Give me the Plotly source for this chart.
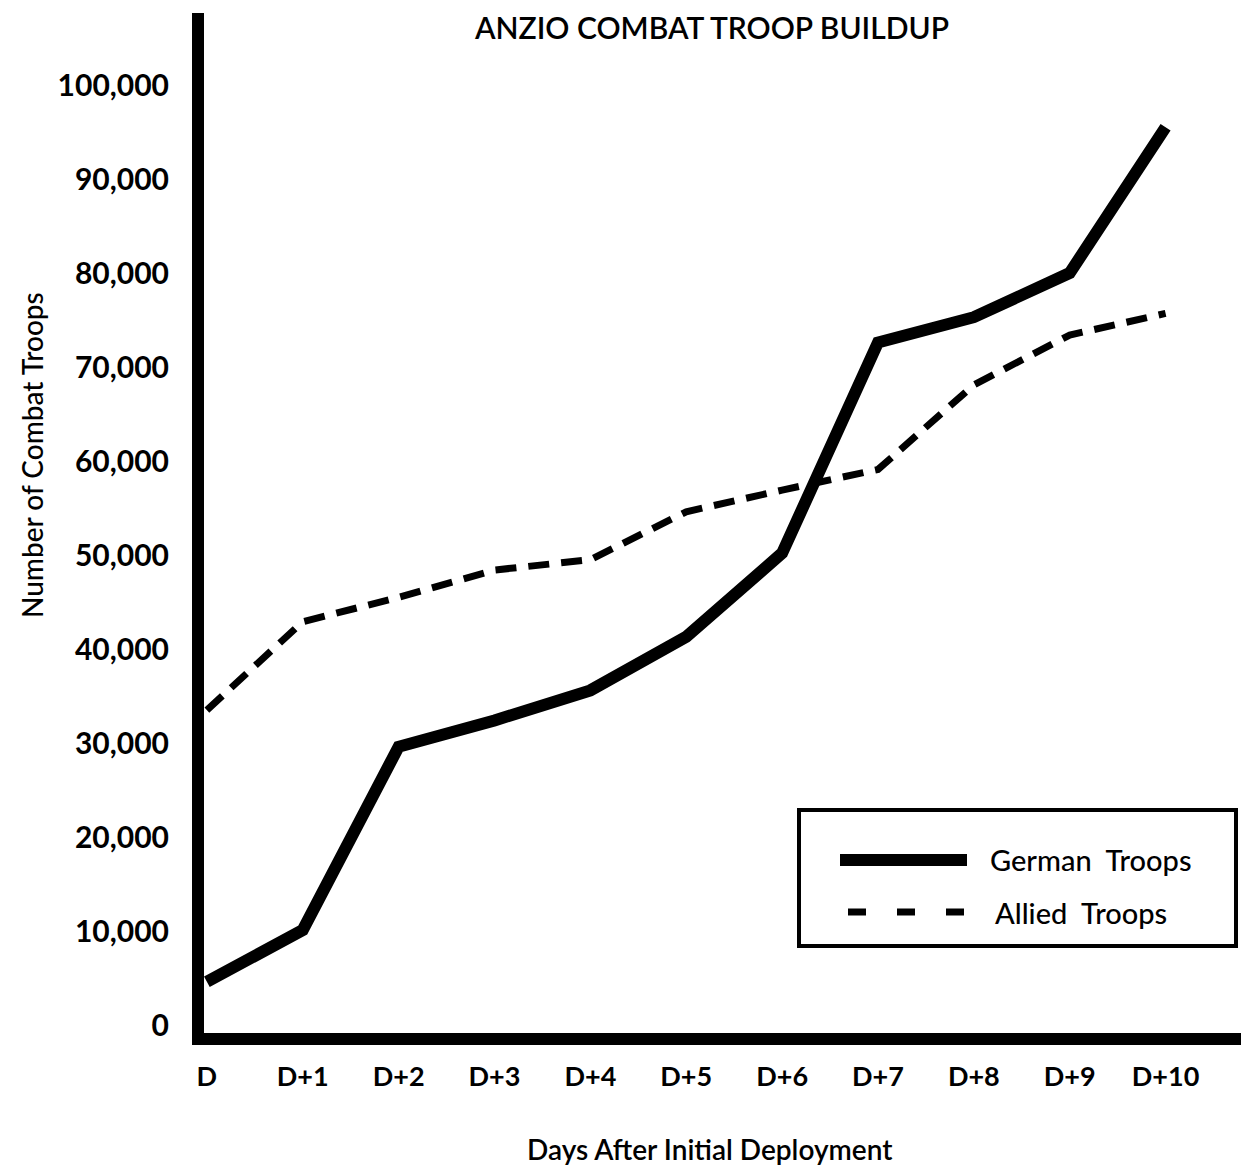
import plotly.graph_objects as go

# ---- data ----
day_labels = ["D", "D+1", "D+2", "D+3", "D+4", "D+5", "D+6", "D+7", "D+8", "D+9", "D+10"]
day_index = list(range(len(day_labels)))
german_troops = [4600, 10100, 29600, 32400, 35600, 41300, 50200, 72600, 75300, 80000, 95500]
allied_troops = [33500, 42900, 45500, 48400, 49500, 54600, 56900, 59100, 68100, 73400, 75700]
y_tick_values = [0, 10000, 20000, 30000, 40000, 50000, 60000, 70000, 80000, 90000, 100000]
y_tick_labels = ["0", "10,000", "20,000", "30,000", "40,000", "50,000",
                 "60,000", "70,000", "80,000", "90,000", "100,000"]
series_names = ["German  Troops", "Allied  Troops"]

# ---- layout geometry ----
# The page body adds an 8px margin, so the figure is drawn 8px smaller and
# every screen position is shifted by that offset.
OFF = 8
SCREEN_W, SCREEN_H = 1249, 1168
W, H = SCREEN_W - OFF, SCREEN_H - OFF
PLOT_L, PLOT_R, PLOT_T, PLOT_B = 204, 1249, 13, 1033   # plot area on screen
L, R, T, B = PLOT_L - OFF, SCREEN_W - PLOT_R, PLOT_T - OFF, (OFF + H) - PLOT_B
PW, PH = W - L - R, H - T - B

FONT = "Lato"


def px_x(x):   # screen x -> plot-area paper fraction
    return (x - PLOT_L) / PW


def px_y(y):   # screen y -> plot-area paper fraction
    return (PLOT_B - y) / PH


def cx(x):     # screen x -> container fraction
    return (x - OFF) / W


def cy(y):     # screen y -> container fraction
    return 1 - (y - OFF) / H


fig = go.Figure()
fig.add_trace(go.Scatter(
    x=day_index, y=german_troops, mode="lines", name=series_names[0],
    line=dict(color="black", width=12), showlegend=False,
))
fig.add_trace(go.Scatter(
    x=day_index, y=allied_troops, mode="lines", name=series_names[1],
    line=dict(color="black", width=7, dash="21px,12px"), showlegend=False,
))

# ---- hand-drawn legend box (matches the reference's wide samples) ----
shapes = [
    dict(type="rect", xref="paper", yref="paper",
         x0=px_x(799), x1=px_x(1236), y0=px_y(946), y1=px_y(810),
         line=dict(color="black", width=4), fillcolor="white", layer="above"),
    dict(type="line", xref="paper", yref="paper",
         x0=px_x(840), x1=px_x(967), y0=px_y(860), y1=px_y(860),
         line=dict(color="black", width=12), layer="above"),
    dict(type="line", xref="paper", yref="paper",
         x0=px_x(848), x1=px_x(964), y0=px_y(912), y1=px_y(912),
         line=dict(color="black", width=7, dash="18px,31px"), layer="above"),
]
annotations = [
    dict(xref="paper", yref="paper", x=px_x(988), y=px_y(860), xanchor="left", yanchor="middle",
         text=series_names[0], showarrow=False,
         font=dict(family=FONT, size=29, color="black", weight=500)),
    dict(xref="paper", yref="paper", x=px_x(993), y=px_y(912), xanchor="left", yanchor="middle",
         text=series_names[1], showarrow=False,
         font=dict(family=FONT, size=29, color="black", weight=500)),
    # axis titles
    dict(xref="paper", yref="paper", x=px_x(710), y=px_y(1149), xanchor="center", yanchor="middle",
         text="Days After Initial Deployment", showarrow=False,
         font=dict(family=FONT, size=28, color="black", weight=600)),
    dict(xref="paper", yref="paper", x=px_x(32), y=px_y(455), xanchor="center", yanchor="middle",
         text="Number of Combat Troops", showarrow=False, textangle=-90,
         font=dict(family=FONT, size=28, color="black", weight=500)),
]

fig.update_layout(
    width=W, height=H,
    margin=dict(l=L, r=R, t=T, b=B, autoexpand=False),
    paper_bgcolor="white", plot_bgcolor="white",
    showlegend=False,
    title=dict(text="ANZIO COMBAT TROOP BUILDUP", x=cx(712), xref="container",
               xanchor="center", y=cy(28), yref="container", yanchor="middle",
               font=dict(family=FONT, size=30, color="black", weight=600)),
    xaxis=dict(
        range=[-0.03, 10.87], tickmode="array", tickvals=day_index, ticktext=day_labels,
        showgrid=False, zeroline=False, showline=True, linecolor="black", linewidth=12,
        ticks="", ticklabelstandoff=9,
        tickfont=dict(family=FONT, size=27, color="black", weight=700),
    ),
    yaxis=dict(
        range=[-851, 107660], tickmode="array", tickvals=y_tick_values, ticktext=y_tick_labels,
        showgrid=False, zeroline=False, showline=True, linecolor="black", linewidth=12,
        ticks="", ticklabelstandoff=17,
        tickfont=dict(family=FONT, size=30, color="black", weight=700),
    ),
    shapes=shapes,
    annotations=annotations,
)

fig.write_html("out.html")
